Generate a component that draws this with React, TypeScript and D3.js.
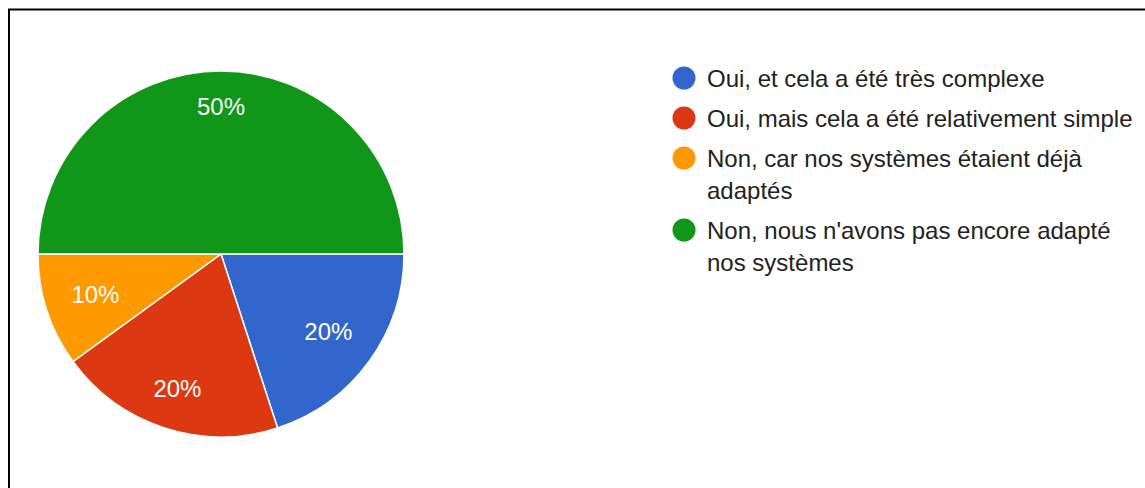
import React from "react";
import * as d3 from "d3";

const categories = [
  "Oui, et cela a été très complexe",
  "Oui, mais cela a été relativement simple",
  "Non, car nos systèmes étaient déjà adaptés",
  "Non, nous n'avons pas encore adapté nos systèmes",
];
const values = [20, 20, 10, 50];
const colors = ["#3366cc", "#dc3912", "#ff9900", "#109618"];

const W = 1145;
const H = 488;
const cx = 221;
const cy = 254;
const radius = 183;
const labelEdge = 158; // labels are pushed out until their box touches this radius
const legendX = 684;
const legendTextX = 707;
const legendMaxWidth = 440;
const fontFamily = "Arial, 'Liberation Sans', sans-serif";

const measureCtx = document.createElement("canvas").getContext("2d");

function textWidth(text: string, font: string): number {
  if (!measureCtx) return text.length * 12;
  measureCtx.font = font;
  return measureCtx.measureText(text).width;
}

// split a legend label into lines that fit the legend width
function wrapText(text: string, maxWidth: number, font: string): string[] {
  const words = text.split(" ");
  const lines: string[] = [];
  let line = "";
  words.forEach((w) => {
    const test = line ? line + " " + w : w;
    if (textWidth(test, font) > maxWidth && line) {
      lines.push(line);
      line = w;
    } else {
      line = test;
    }
  });
  if (line) lines.push(line);
  return lines;
}

const App = () => {
  const data = categories.map((c, i) => ({ label: c, value: values[i], color: colors[i] }));
  const total = d3.sum(values);

  const pieGenerator = d3
    .pie<{ label: string; value: number; color: string }>()
    .sort(null)
    .startAngle(Math.PI / 2)
    .endAngle(Math.PI / 2 + 2 * Math.PI)
    .value((d) => d.value);

  const arcGenerator = d3.arc<d3.PieArcDatum<any>>().innerRadius(0).outerRadius(radius);

  const arcs = pieGenerator(data);

  // legend layout
  let y = 78;
  const legendItems = data.map((d) => {
    const lines = wrapText(d.label, legendMaxWidth, `24px ${fontFamily}`);
    const item = { ...d, lines, y };
    y += 40 + (lines.length - 1) * 32;
    return item;
  });

  return (
    <div style={{ position: "absolute", left: 0, top: 0 }}>
      <svg width={W} height={H} style={{ display: "block", background: "#fff" }}>
        <rect x={9} y={9.5} width={W + 100} height={H + 100} fill="none" stroke="#000" strokeWidth={2} />
        <g transform={`translate(${cx}, ${cy})`}>
          {arcs.map((a, i) => (
            <path key={i} d={arcGenerator(a) || ""} fill={a.data.color} stroke="#fff" strokeWidth={1.5} />
          ))}
          {arcs.map((a, i) => {
            const label = Math.round((a.data.value / total) * 100) + "%";
            const mid = (a.startAngle + a.endAngle) / 2;
            const hw = textWidth(label, `24px ${fontFamily}`) / 2;
            const hh = 10;
            const r = labelEdge - (hw * Math.abs(Math.sin(mid)) + hh * Math.abs(Math.cos(mid)));
            const x = r * Math.sin(mid);
            const yy = -r * Math.cos(mid);
            return (
              <text
                key={"t" + i}
                x={x}
                y={yy}
                textAnchor="middle"
                dominantBaseline="central"
                fill="#fff"
                fontSize={24}
                fontFamily={fontFamily}
              >
                {label}
              </text>
            );
          })}
        </g>
        {legendItems.map((d, i) => (
          <g key={"l" + i}>
            <circle cx={legendX} cy={d.y} r={11.5} fill={d.color} />
            {d.lines.map((ln, j) => (
              <text
                key={j}
                x={legendTextX}
                y={d.y + j * 32}
                dominantBaseline="central"
                fontSize={24}
                fill="#222"
                fontFamily={fontFamily}
              >
                {ln}
              </text>
            ))}
          </g>
        ))}
      </svg>
    </div>
  );
};

export default App;
